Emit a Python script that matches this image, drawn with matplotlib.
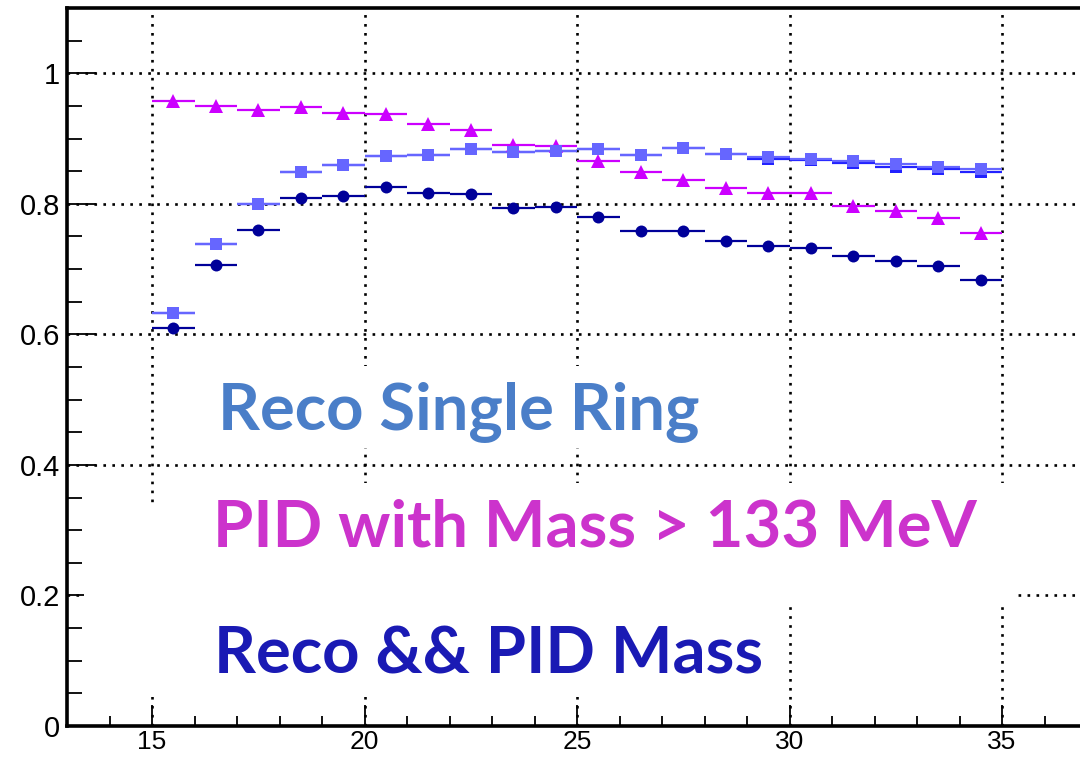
import matplotlib
matplotlib.use("Agg")
import matplotlib.pyplot as plt
from matplotlib.patches import Rectangle
from matplotlib.ticker import MultipleLocator

# Bin centres (1-unit wide bins from 15 to 35)
energy = [15.5, 16.5, 17.5, 18.5, 19.5, 20.5, 21.5, 22.5, 23.5, 24.5,
          25.5, 26.5, 27.5, 28.5, 29.5, 30.5, 31.5, 32.5, 33.5, 34.5]
half_width = 0.5

# Efficiencies per bin
pid_mass = [0.958, 0.950, 0.943, 0.949, 0.939, 0.937, 0.922, 0.913, 0.890, 0.888,
            0.866, 0.848, 0.837, 0.825, 0.816, 0.816, 0.796, 0.789, 0.778, 0.755]
reco_single = [0.633, 0.738, 0.800, 0.848, 0.860, 0.873, 0.875, 0.884, 0.879, 0.881,
               0.884, 0.875, 0.886, 0.876, 0.871, 0.869, 0.866, 0.861, 0.857, 0.853]
reco_single_b = [0.633, 0.738, 0.800, 0.848, 0.860, 0.873, 0.875, 0.884, 0.879, 0.881,
                 0.884, 0.875, 0.886, 0.876, 0.869, 0.867, 0.862, 0.857, 0.853, 0.849]
reco_and_pid = [0.609, 0.706, 0.760, 0.809, 0.812, 0.826, 0.817, 0.815, 0.793, 0.795,
                0.780, 0.759, 0.759, 0.743, 0.735, 0.733, 0.720, 0.712, 0.704, 0.683]

x_ticks = [15, 20, 25, 30, 35]
y_ticks = [0, 0.2, 0.4, 0.6, 0.8, 1.0]
y_tick_labels = ["0", "0.2", "0.4", "0.6", "0.8", "1"]

W, H = 1080, 762
fig = plt.figure(figsize=(W / 100, H / 100), dpi=100)
ax = fig.add_axes([67 / W, 36 / H, (W - 67) / W, (726 - 8) / H])
ax.set_xlim(13, 36.835)
ax.set_ylim(0, 1.1)

# Frame
for side in ("left", "bottom", "top"):
    ax.spines[side].set_linewidth(2.6)
ax.spines["right"].set_visible(False)

ax.set_xticks(x_ticks)
ax.xaxis.set_minor_locator(MultipleLocator(1))
ax.set_yticks(y_ticks)
ax.set_yticklabels(y_tick_labels)
ax.yaxis.set_minor_locator(MultipleLocator(0.05))
ax.tick_params(axis="both", which="both", direction="in", colors="black", width=1.3)
ax.tick_params(axis="x", which="major", length=15, pad=3, labelsize=19)
ax.tick_params(axis="x", which="minor", length=7.5)
ax.tick_params(axis="y", which="major", length=21, pad=5, labelsize=21)
ax.tick_params(axis="y", which="minor", length=11)
ax.tick_params(top=False, right=False, which="both")
for lab in ax.get_xticklabels() + ax.get_yticklabels():
    lab.set_fontfamily("Liberation Sans")

ax.set_axisbelow(True)
ax.grid(True, which="major", color="black", linestyle=(0, (1, 2.4)), linewidth=1.9)

# White panels behind the annotation text
def white_box(x0, y0, x1, y1):
    ax.add_patch(Rectangle((x0 / W, 1 - y1 / H), (x1 - x0) / W, (y1 - y0) / H,
                           transform=fig.transFigure, facecolor="white",
                           edgecolor="none", zorder=1))

white_box(200, 366, 720, 448)
white_box(190, 483, 1013, 607)
white_box(84, 505, 740, 697)

common = dict(xerr=half_width, linestyle="none", elinewidth=1.6,
              capsize=3.0, capthick=1.6, markeredgewidth=0, zorder=3)

ax.errorbar(energy, pid_mass, fmt="^", color="#cc00ff", markersize=10, **common)
ax.errorbar(energy, reco_single_b, fmt="s", color="#2222ff", markersize=8.4, **common)
ax.errorbar(energy, reco_single, fmt="s", color="#6666ff", markersize=8.4, **common)
ax.errorbar(energy, reco_and_pid, fmt="o", color="#000099", markersize=8.6, **common)

# Annotation labels
label_font = dict(family="Lato", weight="bold", size=47, va="baseline", ha="left")
fig.text(218 / W, 1 - 430 / H, "Reco Single Ring", color="#4a7ec8", **label_font)
fig.text(213 / W, 1 - 546.5 / H, "PID with Mass > 133 MeV", color="#cc33cc", **label_font)
fig.text(214 / W, 1 - 673.5 / H, "Reco && PID Mass", color="#1a1ab4", **label_font)

fig.savefig("out.png", dpi=100)
